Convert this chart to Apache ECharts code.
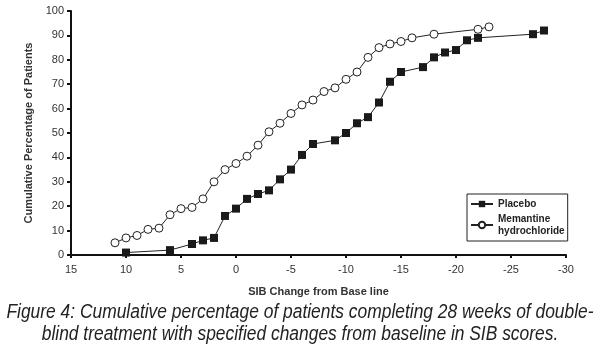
<!DOCTYPE html>
<html>
<head>
<meta charset="utf-8">
<script src="https://cdn.jsdelivr.net/npm/echarts@6/dist/echarts.min.js"></script>
<style>
  html, body { margin: 0; padding: 0; background: #fff; }
  #chart { width: 600px; height: 354px; }
</style>
</head>
<body>
<div id="chart"></div>
<script>
// SIB change (x) vs cumulative % of patients (y)
var placeboX = [10, 6, 4, 3, 2, 1, 0, -1, -2, -3, -4, -5, -6, -7, -9, -10, -11, -12, -13, -14, -15, -17, -18, -19, -20, -21, -22, -27, -28];
var placeboY = [1, 2, 4.5, 6, 7, 16, 19, 23, 25, 26.5, 31, 35, 41, 45.5, 47, 50, 54, 56.5, 62.5, 71, 75, 77, 81, 83, 84, 88, 89, 90.5, 92];

var memantineX = [11, 10, 9, 8, 7, 6, 5, 4, 3, 2, 1, 0, -1, -2, -3, -4, -5, -6, -7, -8, -9, -10, -11, -12, -13, -14, -15, -16, -18, -22, -23];
var memantineY = [5, 7, 8, 10.5, 11, 16.5, 19, 19.5, 23, 30, 35, 37.5, 40.5, 45, 50.5, 54, 58, 61.5, 63.5, 67, 68.5, 72, 75, 81, 85, 86.5, 87.5, 89, 90.5, 92.5, 93.5];

var captionLines = [
  'Figure 4: Cumulative percentage of patients completing 28 weeks of double-',
  'blind treatment with specified changes from baseline in SIB scores.'
];

function pairs(xs, ys) {
  return xs.map(function (x, i) { return [x, ys[i]]; });
}

var chart = echarts.init(document.getElementById('chart'));
var axisFont = 'Liberation Sans, Arial, sans-serif';

var option = {
  animation: false,
  // caption is set in a condensed italic face, so squeeze the text horizontally
  graphic: [{
    type: 'text',
    x: 300,
    y: 301,
    scaleX: 0.87,
    style: {
      text: captionLines.join('\n'),
      textAlign: 'center',
      textVerticalAlign: 'top',
      fontFamily: 'Liberation Sans, Arial, sans-serif',
      fontStyle: 'italic',
      fontSize: 20,
      lineHeight: 22,
      fill: '#222'
    }
  }],
  grid: { left: 71, right: 34, top: 11, bottom: 99 },
  legend: {
    orient: 'vertical',
    left: 467,
    top: 194,
    padding: [4, 3, 4, 3],
    itemGap: 3,
    itemWidth: 22,
    itemHeight: 8,
    backgroundColor: '#fff',
    borderColor: '#222',
    borderWidth: 1,
    borderRadius: 0,
    textStyle: { fontFamily: axisFont, fontWeight: 'bold', fontSize: 10, color: '#222', lineHeight: 12 },
    data: ['Placebo', 'Memantine\nhydrochloride']
  },
  xAxis: {
    type: 'value',
    inverse: true,
    min: -30,
    max: 15,
    interval: 5,
    name: 'SIB Change from Base line',
    nameLocation: 'middle',
    nameGap: 31,
    nameTextStyle: { fontFamily: axisFont, fontWeight: 'bold', fontSize: 11, color: '#333' },
    splitLine: { show: false },
    axisLine: { onZero: false, lineStyle: { color: '#111', width: 2 } },
    axisTick: { inside: false, length: 3, lineStyle: { color: '#111', width: 2 } },
    axisLabel: { fontFamily: axisFont, fontSize: 11, color: '#333', margin: 9 }
  },
  yAxis: {
    type: 'value',
    min: 0,
    max: 100,
    interval: 10,
    name: 'Cumulative Percentage of Patients',
    nameLocation: 'middle',
    nameGap: 25,
    nameTextStyle: { fontFamily: axisFont, fontWeight: 'bold', fontSize: 11, color: '#333' },
    splitLine: { show: false },
    axisLine: { show: true, onZero: false, lineStyle: { color: '#111', width: 2 } },
    axisTick: { show: true, length: 4, lineStyle: { color: '#111', width: 2 } },
    axisLabel: { fontFamily: axisFont, fontSize: 11, color: '#333', margin: 7 }
  },
  series: [
    {
      name: 'Placebo',
      type: 'line',
      data: pairs(placeboX, placeboY),
      symbol: 'rect',
      symbolSize: 8,
      itemStyle: { color: '#1a1a1a' },
      lineStyle: { color: '#222', width: 1 }
    },
    {
      name: 'Memantine\nhydrochloride',
      type: 'line',
      data: pairs(memantineX, memantineY),
      symbol: 'circle',
      symbolSize: 8,
      itemStyle: { color: '#fff', borderColor: '#222', borderWidth: 1 },
      lineStyle: { color: '#222', width: 1 }
    }
  ]
};

chart.setOption(option);
</script>
</body>
</html>
